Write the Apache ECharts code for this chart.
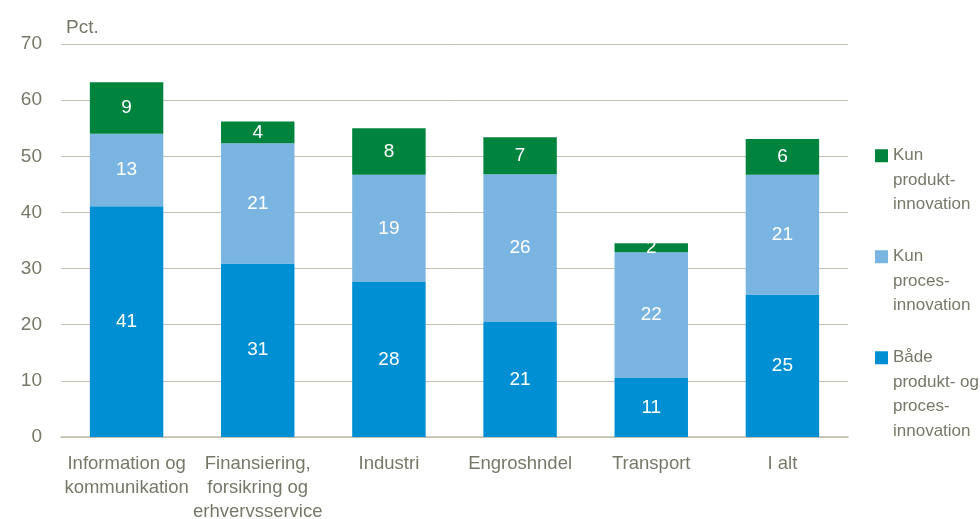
<!DOCTYPE html>
<html>
<head>
<meta charset="utf-8">
<script src="https://cdn.jsdelivr.net/npm/echarts@6/dist/echarts.min.js"></script>
<style>
  html, body { margin: 0; padding: 0; background: #fff; }
  #chart { width: 980px; height: 519px; }
</style>
</head>
<body>
<div id="chart"></div>
<script>
// kategorier
const categories = [
    'Information og\nkommunikation',
    'Finansiering,\nforsikring og\nerhvervsservice',
    'Industri',
    'Engroshndel',
    'Transport',
    'I alt'
];
// Både produkt- og procesinnovation
const baade = [41.1, 30.9, 27.6, 20.5, 10.5, 25.4];
// Kun procesinnovation
const kunProces = [12.9, 21.4, 19.1, 26.3, 22.4, 21.3];
// Kun produktinnovation
const kunProdukt = [9.2, 3.9, 8.3, 6.6, 1.6, 6.4];
const yTicks = [0, 10, 20, 30, 40, 50, 60, 70];

const fontFam = '"Liberation Sans", Arial, sans-serif';
const textGrey = '#77776a';
const gridGrey = '#c2bfb3';

const legendText = {
    'Kun produkt': ['Kun', 'produkt-', 'innovation'],
    'Kun proces': ['Kun', 'proces-', 'innovation'],
    'Både': ['Både', 'produkt- og', 'proces-', 'innovation']
};

let chart = echarts.init(document.getElementById('chart'), null, { renderer: 'canvas' });

function seg(name, data, color) {
    return {
        name: name,
        type: 'bar',
        stack: 'tot',
        barWidth: '56%',
        data: data,
        itemStyle: { color: color },
        label: {
            show: true,
            position: 'inside',
            color: '#fff',
            fontFamily: fontFam,
            fontSize: 19,
            formatter: function (p) { return Math.round(p.value); }
        }
    };
}

const option = {
    animation: false,
    grid: { left: 61, right: 132, top: 44, bottom: 82, outerBoundsMode: 'none' },
    legend: {
        orient: 'vertical',
        left: 875,
        top: 70,
        padding: 0,
        itemWidth: 13,
        itemHeight: 13,
        itemGap: -70.5,
        icon: 'rect',
        data: ['Kun produkt', 'Kun proces', 'Både'],
        // 7 linjer pr. punkt: tomme linjer foran/bagved, så ikonet står ud for første linje
        formatter: function (n) {
            const lines = legendText[n];
            const after = 4 - lines.length;
            return '\n\n\n' + lines.join('\n') + '\n'.repeat(after) + (after > 0 ? ' ' : '');
        },
        textStyle: {
            color: textGrey,
            fontFamily: fontFam,
            fontSize: 17,
            lineHeight: 24.5
        }
    },
    xAxis: {
        type: 'category',
        data: categories,
        axisLine: { lineStyle: { color: gridGrey, width: 1.5 } },
        axisTick: { show: false },
        axisLabel: {
            color: textGrey,
            fontFamily: fontFam,
            fontSize: 18.5,
            lineHeight: 24,
            margin: 15,
            interval: 0
        }
    },
    yAxis: {
        type: 'value',
        min: yTicks[0],
        max: yTicks[yTicks.length - 1],
        interval: 10,
        name: 'Pct.',
        nameLocation: 'end',
        nameGap: 7,
        nameTextStyle: {
            color: textGrey,
            fontFamily: fontFam,
            fontSize: 19,
            align: 'left',
            padding: [0, 0, 0, 5]
        },
        axisLine: { show: false },
        axisTick: { show: false },
        splitLine: { lineStyle: { color: gridGrey, width: 1 } },
        axisLabel: {
            color: textGrey,
            fontFamily: fontFam,
            fontSize: 19,
            margin: 19
        }
    },
    series: [
        seg('Både', baade, '#008fd3'),
        seg('Kun proces', kunProces, '#7ab5e2'),
        seg('Kun produkt', kunProdukt, '#00843d')
    ]
};
chart.setOption(option);
</script>
</body>
</html>
